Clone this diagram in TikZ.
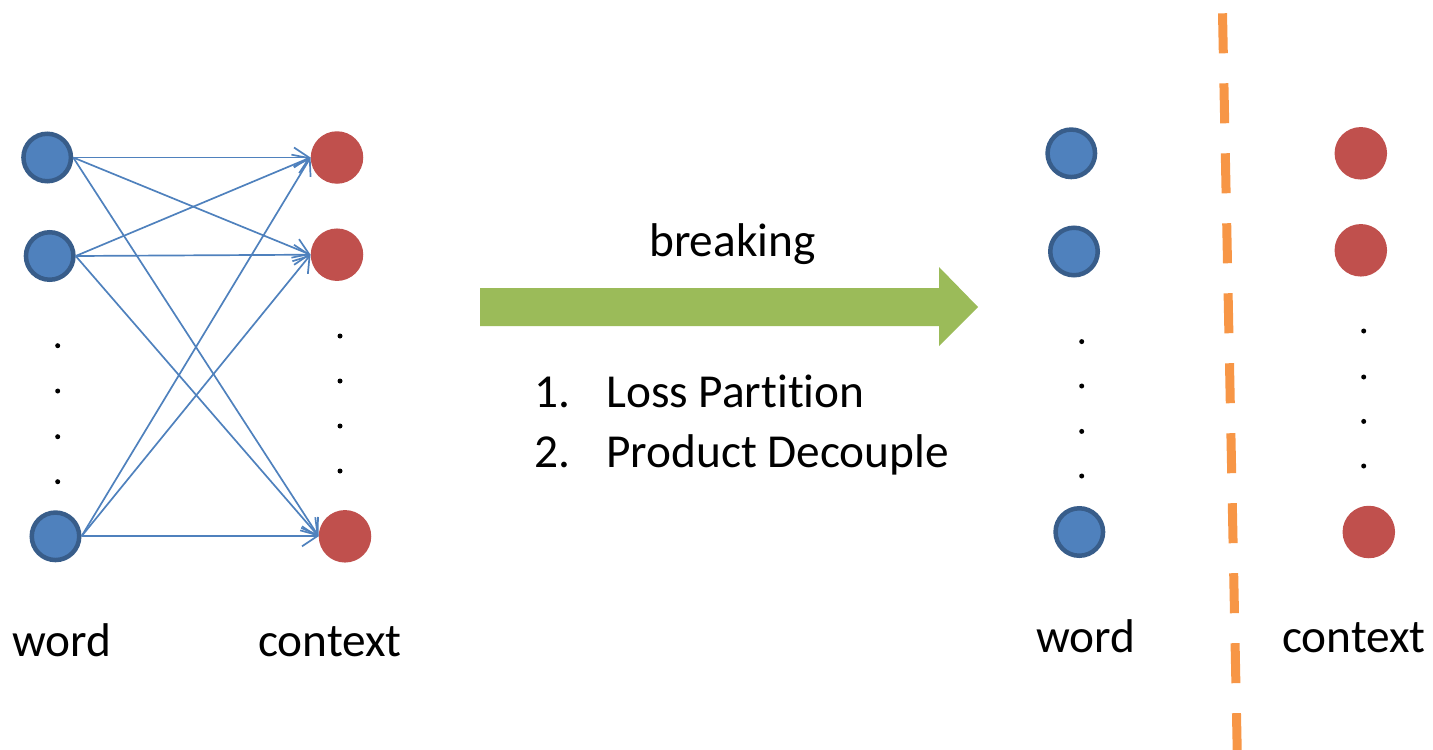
\documentclass[tikz,border=0pt]{standalone}
\usepackage{fontspec}
\setmainfont{Carlito}[Ligatures={NoCommon,NoContextual,NoRequired,NoRare}]
\usetikzlibrary{arrows.meta}
\definecolor{wordfill}{HTML}{4F81BD}
\definecolor{wordline}{HTML}{385D8A}
\definecolor{ctxfill}{HTML}{C0504D}
\definecolor{arrowgreen}{HTML}{9BBB59}
\definecolor{splitorange}{HTML}{F79646}
\begin{document}
\begin{tikzpicture}[x=1bp,y=-1bp,
  wordnode/.style={circle, fill=wordfill, draw=wordline, line width=4.5bp,
    minimum size=47.5bp, inner sep=0pt},
  ctxnode/.style={circle, fill=ctxfill, minimum size=52.5bp, inner sep=0pt},
  link/.style={draw=wordfill, line width=1.7bp,
    -{Straight Barb[length=15bp,width=20bp]}},
  label/.style={anchor=base west, inner sep=0pt,
    font=\fontsize{47.5pt}{57pt}\selectfont},
  dotmark/.style={fill=black}
]
\useasboundingbox (0,0) rectangle (1433,749);

% ---- fully connected word/context graph ----
\node[wordnode] (w1) at (47.2,157.5) {};
\node[wordnode] (w2) at (49.7,256) {};
\node[wordnode] (w3) at (55.5,536.3) {};
\node[ctxnode] (c1) at (337,157.5) {};
\node[ctxnode] (c2) at (337,254.7) {};
\node[ctxnode] (c3) at (345,536.3) {};

\foreach \w in {w1,w2,w3}
  \foreach \c in {c1,c2,c3}
    \draw[link] (\w.east) -- (\c.west);

\foreach \y in {345.7,391,436.7,481.7}
  \fill[dotmark] (57.7,\y) circle (2.5);
\foreach \y in {336,381,426,471}
  \fill[dotmark] (340,\y) circle (2.5);

\node[label] (lword) at (12,656) {word};
\node[label] (lctx) at (258,656) {context};

% ---- transition arrow and its captions ----
\fill[arrowgreen] (480,288) -- (939,288) -- (939,267) -- (978,307)
  -- (939,346) -- (939,326) -- (480,326) -- cycle;
\node[label] (brk) at (649,256.7) {breaking};
\node[label] (n1) at (534,407.7) {1.};
\node[label] (t1) at (606,407.7) {Loss Part\kern0pt it\kern0pt ion};
\node[label] (n2) at (534,467.5) {2.};
\node[label] (t2) at (606,467.5) {Product Decouple};

% ---- decoupled word and context sets ----
\node[wordnode] (rw1) at (1071.3,153.3) {};
\node[wordnode] (rw2) at (1074,251.5) {};
\node[wordnode] (rw3) at (1079.3,532) {};
\node[ctxnode] (rc1) at (1360.8,153.3) {};
\node[ctxnode] (rc2) at (1360.8,250.3) {};
\node[ctxnode] (rc3) at (1368.8,532) {};

\foreach \y in {341.6,386,431.4,476}
  \fill[dotmark] (1081.7,\y) circle (2.5);
\foreach \y in {331,377,421.4,466}
  \fill[dotmark] (1363.7,\y) circle (2.5);

\node[label] (rword) at (1036,652.7) {word};
\node[label] (rctx) at (1282,652.7) {context};

% ---- separating dashed line ----
\begin{scope}
  \clip (0,0) rectangle (1433,749);
  \draw[splitorange, line width=9bp, dash pattern=on 40bp off 30bp]
    (1222.5,13.3) -- (1237.6,770);
\end{scope}
\end{tikzpicture}
\end{document}
